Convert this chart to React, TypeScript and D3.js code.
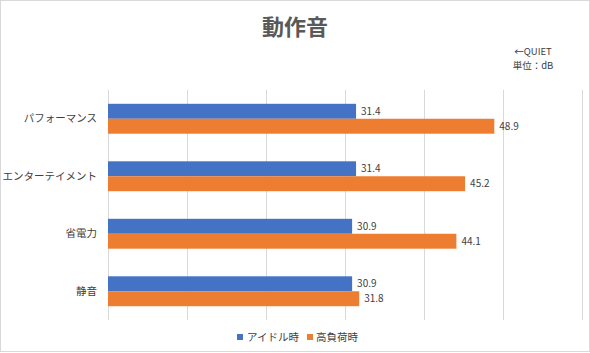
import React from "react";
import * as d3 from "d3";

const categories = ["パフォーマンス", "エンターテイメント", "省電力", "静音"];
const seriesNames = ["アイドル時", "高負荷時"];
const idleValues = [31.4, 31.4, 30.9, 30.9];
const loadValues = [48.9, 45.2, 44.1, 31.8];
const xTicks = [0, 10, 20, 30, 40, 50, 60];
const colors = ["#4472C4", "#ED7D31"];

const W = 590;
const H = 353;
const FONT = "'Noto Sans CJK JP', 'Noto Sans', sans-serif";

export default function App() {
  const x = d3.scaleLinear().domain([0, 60]).range([108, 582]);
  const y = d3.scaleBand<string>().domain(categories).range([90, 320]).paddingInner(0.48).paddingOuter(0.24);
  const sub = d3.scaleBand<string>().domain(seriesNames).range([0, y.bandwidth()]);
  const series = [idleValues, loadValues];

  return (
    <svg width={W} height={H} style={{ position: "absolute", left: 0, top: 0, background: "#fff" }} fontFamily={FONT}>
      <rect x={0.5} y={0.5} width={W - 1} height={H - 2} fill="#fff" stroke="#d9d9d9" />
      <text x={W / 2} y={35} textAnchor="middle" fontSize={22} fontWeight={700} fill="#595959">動作音</text>
      <text x={533} y={52} dy="0.35em" textAnchor="middle" fontSize={9.5} fill="#404040">←QUIET</text>
      <text x={533} y={66} dy="0.35em" textAnchor="middle" fontSize={9.5} fill="#404040">単位：dB</text>
      {xTicks.map((t) => (
        <line key={t} x1={Math.round(x(t)) + 0.5} x2={Math.round(x(t)) + 0.5} y1={90} y2={320} stroke="#d9d9d9" />
      ))}
      {categories.map((c, i) => (
        <g key={c}>
          {series.map((vals, s) => {
            const yy = (y(c) as number) + (sub(seriesNames[s]) as number);
            return (
              <g key={s}>
                <rect x={x(0)} y={yy} width={x(vals[i]) - x(0)} height={sub.bandwidth()} fill={colors[s]} />
                <text x={x(vals[i]) + 5} y={yy + sub.bandwidth() / 2} dy="0.35em" fontSize={10} fill="#404040">
                  {vals[i].toFixed(1)}
                </text>
              </g>
            );
          })}
          <text x={97} y={(y(c) as number) + y.bandwidth() / 2} dy="0.35em" textAnchor="end" fontSize={10.5} fill="#404040">
            {c}
          </text>
        </g>
      ))}
      <g>
        <rect x={237} y={334} width={6} height={6} fill={colors[0]} />
        <text x={247} y={337} dy="0.35em" fontSize={10.5} fill="#404040">{seriesNames[0]}</text>
        <rect x={307} y={334} width={6} height={6} fill={colors[1]} />
        <text x={316} y={337} dy="0.35em" fontSize={10.5} fill="#404040">{seriesNames[1]}</text>
      </g>
    </svg>
  );
}
